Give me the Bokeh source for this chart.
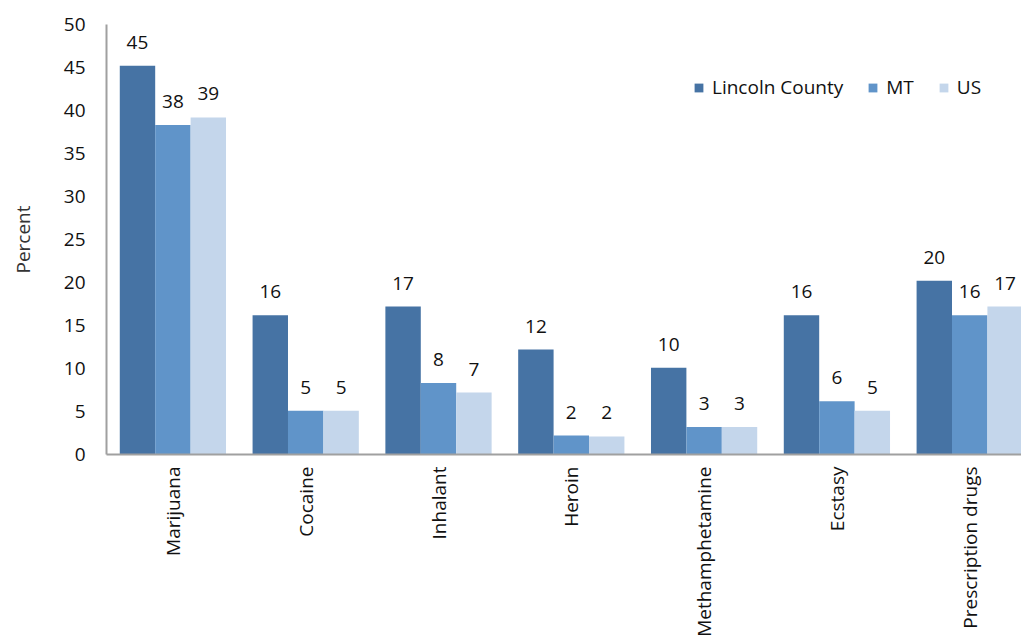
import math
from bokeh.plotting import figure
from bokeh.models import Range1d, FixedTicker, Legend, LegendItem, ColumnDataSource
from bokeh.core.properties import value
from bokeh.embed import file_html
from bokeh.resources import INLINE

categories = ["Marijuana", "Cocaine", "Inhalant", "Heroin", "Methamphetamine", "Ecstasy", "Prescription drugs"]
series_names = ["Lincoln County", "MT", "US"]
lincoln = [45.2, 16.2, 17.2, 12.2, 10.1, 16.2, 20.2]
mt = [38.3, 5.1, 8.3, 2.2, 3.2, 6.2, 16.2]
us = [39.2, 5.1, 7.2, 2.1, 3.2, 5.1, 17.2]
y_ticks = [0, 5, 10, 15, 20, 25, 30, 35, 40, 45, 50]

colors = ["#4673A4", "#6094C9", "#C4D6EB"]
FONT = "Open Sans"
FS = "19px"

p = figure(width=1021, height=642, output_backend="svg", toolbar_location=None,
           x_range=Range1d(0, 6.89), y_range=Range1d(0, 50),
           min_border_left=106, min_border_right=0, min_border_top=24, min_border_bottom=188)
p.outline_line_color = None
p.xgrid.grid_line_color = None
p.ygrid.grid_line_color = None
p.background_fill_color = "white"
p.border_fill_color = "white"

bar_w = 0.8 / 3
offsets = [-bar_w, 0.0, bar_w]
renderers = []
for vals, off, col in zip([lincoln, mt, us], offsets, colors):
    xs = [i + 0.5 + off for i in range(len(categories))]
    src = ColumnDataSource(dict(x=xs, top=vals, lab=[str(int(round(v))) for v in vals]))
    r = p.vbar(x="x", top="top", width=bar_w, bottom=0, source=src,
               fill_color=col, line_color=None)
    renderers.append(r)
    p.text(x="x", y="top", text="lab", source=src, text_align="center",
           text_baseline="bottom", y_offset=-17, text_font=value(FONT),
           text_font_size=FS, text_color="#111111")

# axes
p.yaxis.ticker = FixedTicker(ticks=y_ticks)
p.yaxis.major_tick_line_color = None
p.yaxis.minor_tick_line_color = None
p.yaxis.major_tick_out = 0
p.yaxis.major_tick_in = 0
p.yaxis.major_label_standoff = 21
p.yaxis.axis_line_color = "#A0A0A0"
p.yaxis.axis_line_width = 2
p.yaxis.major_label_text_font = FONT
p.yaxis.major_label_text_font_size = FS
p.yaxis.major_label_text_color = "#111111"
p.yaxis.axis_label = "Percent"
p.yaxis.axis_label_text_font = FONT
p.yaxis.axis_label_text_font_style = "normal"
p.yaxis.axis_label_text_font_size = FS
p.yaxis.axis_label_text_color = "#333333"
p.yaxis.axis_label_standoff = 25

p.xaxis.ticker = FixedTicker(ticks=[i + 0.5 for i in range(len(categories))])
p.xaxis.major_label_overrides = {i + 0.5: c for i, c in enumerate(categories)}
p.xaxis.major_tick_line_color = None
p.xaxis.minor_tick_line_color = None
p.xaxis.major_tick_out = 0
p.xaxis.major_tick_in = 0
p.xaxis.major_label_standoff = 12
p.xaxis.major_label_orientation = math.pi / 2
p.xaxis.axis_line_color = "#A0A0A0"
p.xaxis.axis_line_width = 2
p.xaxis.major_label_text_font = FONT
p.xaxis.major_label_text_font_size = FS
p.xaxis.major_label_text_color = "#111111"

legend = Legend(items=[LegendItem(label=n, renderers=[r]) for n, r in zip(series_names, renderers)],
                orientation="horizontal", location=(587, 354),
                glyph_width=11, glyph_height=11, label_standoff=8, spacing=24,
                padding=0, margin=0, border_line_color=None, background_fill_alpha=0,
                label_text_font=FONT, label_text_font_size=FS, label_text_color="#111111")
p.add_layout(legend)

open("out.html", "w").write(file_html(p, INLINE))
